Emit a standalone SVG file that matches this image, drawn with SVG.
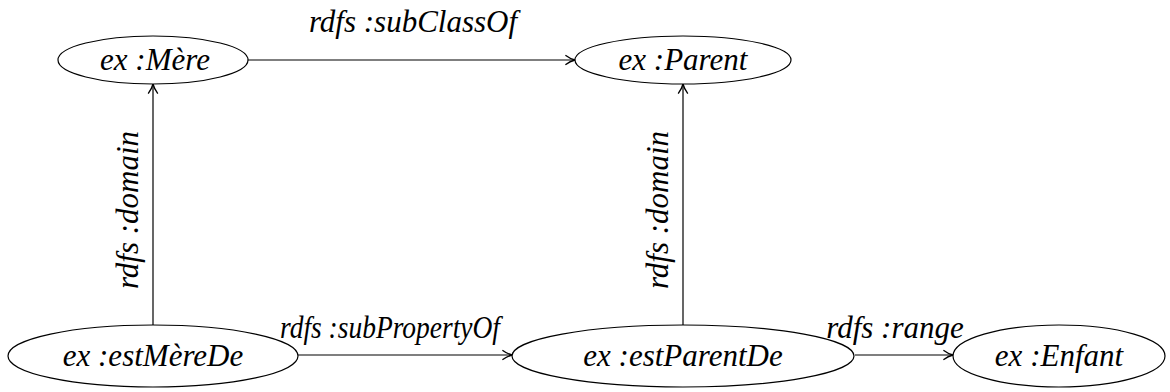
<svg xmlns="http://www.w3.org/2000/svg" width="1170" height="392" viewBox="0 0 1170 392">
<style>
.n{fill:#fff;stroke:#000;stroke-width:1.2}
.t{font-family:"Liberation Serif",serif;font-style:italic;font-size:31px;fill:#000}
.e{stroke:#000;stroke-width:1.2;fill:none;marker-end:url(#a)}
</style>
<defs>
<marker id="a" markerWidth="12" markerHeight="12" refX="9" refY="5" orient="auto" markerUnits="userSpaceOnUse" viewBox="0 0 10 10">
<path d="M1,1 Q5,4 9,5 Q5,6 1,9" fill="none" stroke="#000" stroke-width="1.1"/>
</marker>
</defs>
<rect width="1170" height="392" fill="#fff"/>
<g id="edges">
<line class="e" x1="248" y1="60" x2="575" y2="60"/>
<line class="e" x1="153" y1="325" x2="153" y2="84"/>
<line class="e" x1="683" y1="325" x2="683" y2="84"/>
<line class="e" x1="298" y1="355" x2="512" y2="355"/>
<line class="e" x1="855" y1="355" x2="953" y2="355"/>
<text class="t" x="413" y="32" text-anchor="middle">rdfs :subClassOf</text>
<text class="t" x="280" y="338" textLength="220" lengthAdjust="spacingAndGlyphs">rdfs :subPropertyOf</text>
<text class="t" x="895" y="338" text-anchor="middle">rdfs :range</text>
<text class="t" transform="translate(138,210) rotate(-90)" text-anchor="middle">rdfs :domain</text>
<text class="t" transform="translate(668,210) rotate(-90)" text-anchor="middle">rdfs :domain</text>
</g>
<g id="mere"><ellipse class="n" cx="153" cy="60" rx="95" ry="24"/><text class="t" x="155" y="70" text-anchor="middle">ex :Mère</text></g>
<g id="parent"><ellipse class="n" cx="683" cy="60" rx="108" ry="24"/><text class="t" x="683" y="70" text-anchor="middle">ex :Parent</text></g>
<g id="estMereDe"><ellipse class="n" cx="153" cy="356" rx="145" ry="31"/><text class="t" x="153" y="366" text-anchor="middle">ex :estMèreDe</text></g>
<g id="estParentDe"><ellipse class="n" cx="683" cy="356" rx="171" ry="31"/><text class="t" x="683" y="366" text-anchor="middle">ex :estParentDe</text></g>
<g id="enfant"><ellipse class="n" cx="1059" cy="356" rx="106" ry="31"/><text class="t" x="1059" y="366" text-anchor="middle">ex :Enfant</text></g>
</svg>
